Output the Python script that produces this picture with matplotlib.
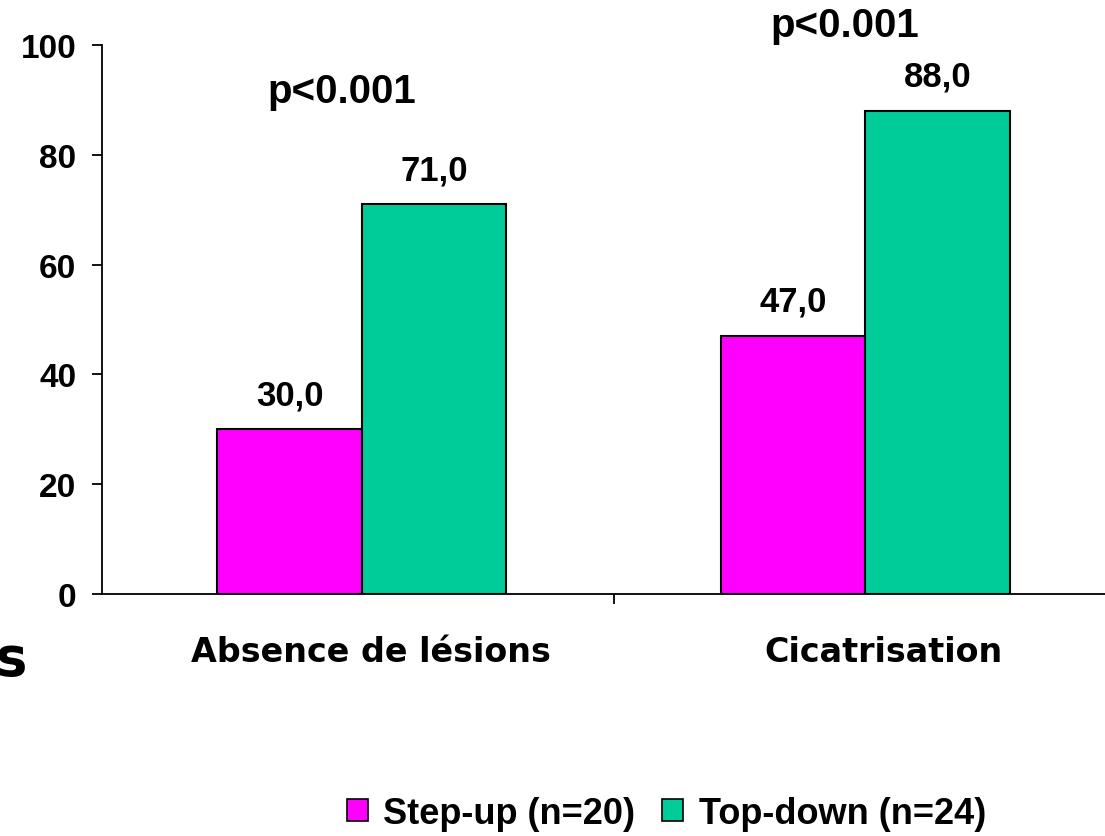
import matplotlib.pyplot as plt
import numpy as np
from matplotlib.patches import Patch

categories = ['Absence de lésions', 'Cicatrisation']
series_names = ['Step-up (n=20)', 'Top-down (n=24)']
step_up = [30.0, 47.0]
top_down = [71.0, 88.0]
p_values = ['p<0.001', 'p<0.001']
p_heights = [91.6, 103.6]
colors = ['#FF00FF', '#00CC99']

fig = plt.figure(figsize=(11.05, 8.37), dpi=100)
ax = fig.add_axes([0.0923, 0.289, 0.9186, 0.656])

x = np.arange(len(categories))
w = 0.287
bars1 = ax.bar(x - w / 2, step_up, w, color=colors[0], edgecolor='black', linewidth=1.5)
bars2 = ax.bar(x + w / 2, top_down, w, color=colors[1], edgecolor='black', linewidth=1.5)

for bars, vals in [(bars1, step_up), (bars2, top_down)]:
    for b, v in zip(bars, vals):
        ax.annotate(f'{v:.1f}'.replace('.', ','), (b.get_x() + b.get_width() / 2, v),
                    xytext=(0, 13), textcoords='offset points', ha='center', va='bottom',
                    fontsize=25, fontweight='bold', family='Liberation Sans')

for i, (p, h) in enumerate(zip(p_values, p_heights)):
    ax.text(i - 0.04, h, p, ha='center', va='center', fontsize=29,
            fontweight='bold', family='Liberation Sans', clip_on=False)

for i, c in enumerate(categories):
    ax.text(i + 0.018 + 0.018 * i, -10.4, c, ha='center', va='center', fontsize=24,
            fontweight='bold', family='DejaVu Sans', clip_on=False)

ax.set_xlim(-0.516, 1.5)
ax.set_ylim(0, 100)
ax.set_xticks([0.5])
ax.set_xticklabels([''])
ax.set_yticks(np.arange(0, 101, 20))
ax.set_yticklabels([str(v) for v in range(0, 101, 20)], fontsize=24,
                   fontweight='bold', family='Liberation Sans')
ax.tick_params(axis='both', direction='out', length=7.5, width=1.3, pad=11)
for s in ['top', 'right']:
    ax.spines[s].set_visible(False)
for s in ['left', 'bottom']:
    ax.spines[s].set_linewidth(1.3)

# fragment of cut-off text at the left edge
fig.text(-0.004, 1 - 660 / 837, 's', ha='left', va='center', fontsize=38,
         fontweight='bold', family='DejaVu Sans')

handles = [Patch(facecolor=colors[0], edgecolor='black', linewidth=1.2),
           Patch(facecolor=colors[1], edgecolor='black', linewidth=1.2)]
fig.legend(handles, series_names, loc='center', bbox_to_anchor=(0.603, 0.027),
           ncol=2, frameon=False, handlelength=0.58, handleheight=0.58,
           handletextpad=0.42, columnspacing=0.76, borderpad=0.1,
           prop={'family': 'Liberation Sans', 'weight': 'bold', 'size': 26})

fig.savefig('out.png', dpi=100)
